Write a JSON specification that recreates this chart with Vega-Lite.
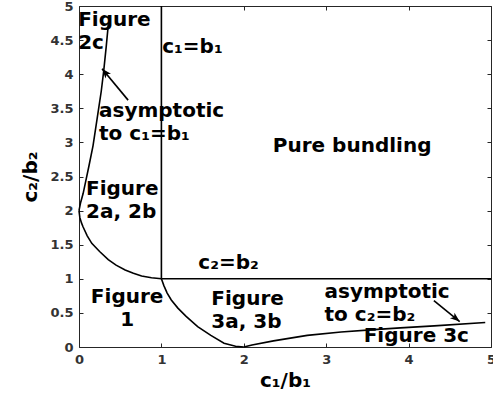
{
  "$schema": "https://vega.github.io/schema/vega-lite/v6.json",
  "width": 412,
  "height": 341,
  "autosize": {"type": "none"},
  "padding": {"left": 79, "top": 6, "right": 2, "bottom": 49},
  "background": "white",
  "config": {"view": {"stroke": null}, "font": "DejaVu Sans"},
  "datasets": {
    "curves": [
      {"curve": "A", "i": 0, "x": 0, "y": 2},
      {"curve": "A", "i": 1, "x": 0.01, "y": 1.9},
      {"curve": "A", "i": 2, "x": 0.03, "y": 1.82},
      {"curve": "A", "i": 3, "x": 0.05, "y": 1.76},
      {"curve": "A", "i": 4, "x": 0.1, "y": 1.63},
      {"curve": "A", "i": 5, "x": 0.155, "y": 1.52},
      {"curve": "A", "i": 6, "x": 0.25, "y": 1.4},
      {"curve": "A", "i": 7, "x": 0.355, "y": 1.28},
      {"curve": "A", "i": 8, "x": 0.45, "y": 1.2},
      {"curve": "A", "i": 9, "x": 0.56, "y": 1.13},
      {"curve": "A", "i": 10, "x": 0.66, "y": 1.08},
      {"curve": "A", "i": 11, "x": 0.76, "y": 1.04},
      {"curve": "A", "i": 12, "x": 0.88, "y": 1.015},
      {"curve": "A", "i": 13, "x": 1, "y": 1},
      {"curve": "B", "i": 0, "x": 1, "y": 1},
      {"curve": "B", "i": 1, "x": 1.03, "y": 0.9},
      {"curve": "B", "i": 2, "x": 1.07, "y": 0.79},
      {"curve": "B", "i": 3, "x": 1.12, "y": 0.69},
      {"curve": "B", "i": 4, "x": 1.2, "y": 0.57},
      {"curve": "B", "i": 5, "x": 1.3, "y": 0.45},
      {"curve": "B", "i": 6, "x": 1.44, "y": 0.3},
      {"curve": "B", "i": 7, "x": 1.6, "y": 0.17},
      {"curve": "B", "i": 8, "x": 1.76, "y": 0.055},
      {"curve": "B", "i": 9, "x": 1.9, "y": 0.01},
      {"curve": "B", "i": 10, "x": 2, "y": 0},
      {"curve": "C", "i": 0, "x": 2, "y": 0},
      {"curve": "C", "i": 1, "x": 2.1, "y": 0.03},
      {"curve": "C", "i": 2, "x": 2.36, "y": 0.09},
      {"curve": "C", "i": 3, "x": 2.77, "y": 0.17},
      {"curve": "C", "i": 4, "x": 3.18, "y": 0.22},
      {"curve": "C", "i": 5, "x": 3.58, "y": 0.255},
      {"curve": "C", "i": 6, "x": 3.9, "y": 0.28},
      {"curve": "C", "i": 7, "x": 4.31, "y": 0.31},
      {"curve": "C", "i": 8, "x": 4.93, "y": 0.36},
      {"curve": "D", "i": 0, "x": 0, "y": 2},
      {"curve": "D", "i": 1, "x": 0.02, "y": 2.12},
      {"curve": "D", "i": 2, "x": 0.05, "y": 2.25},
      {"curve": "D", "i": 3, "x": 0.08, "y": 2.42},
      {"curve": "D", "i": 4, "x": 0.12, "y": 2.65},
      {"curve": "D", "i": 5, "x": 0.17, "y": 2.95},
      {"curve": "D", "i": 6, "x": 0.22, "y": 3.35},
      {"curve": "D", "i": 7, "x": 0.27, "y": 3.75},
      {"curve": "D", "i": 8, "x": 0.3, "y": 4.05},
      {"curve": "D", "i": 9, "x": 0.33, "y": 4.4},
      {"curve": "D", "i": 10, "x": 0.355, "y": 4.72},
      {"curve": "E", "i": 0, "x": 1, "y": 1},
      {"curve": "E", "i": 1, "x": 1, "y": 5},
      {"curve": "F", "i": 0, "x": 1, "y": 1},
      {"curve": "F", "i": 1, "x": 5, "y": 1}
    ],
    "arrows": [
      {"arrow": "a1", "i": 0, "x": 0.596, "y": 3.62},
      {"arrow": "a1", "i": 1, "x": 0.28, "y": 4.08},
      {"arrow": "a2", "i": 0, "x": 4.307, "y": 0.68},
      {"arrow": "a2", "i": 1, "x": 4.62, "y": 0.373}
    ],
    "labelsLeft": [
      {"label": "Figure\n2c", "x": -0.01, "y": 4.8},
      {"label": "c₁=b₁", "x": 1.01, "y": 4.4},
      {"label": "asymptotic\nto c₁=b₁", "x": 0.243, "y": 3.46},
      {"label": "Figure\n2a, 2b", "x": 0.085, "y": 2.32},
      {"label": "c₂=b₂", "x": 1.448, "y": 1.237},
      {"label": "Figure\n3a, 3b", "x": 1.606, "y": 0.71},
      {"label": "asymptotic\nto c₂=b₂", "x": 2.98, "y": 0.8},
      {"label": "Figure 3c", "x": 3.455, "y": 0.154}
    ],
    "labelsCenter": [
      {"label": "Pure bundling", "x": 3.315, "y": 2.95},
      {"label": "Figure\n1", "x": 0.584, "y": 0.74}
    ]
  },
  "layer": [
    {
      "data": {"name": "curves"},
      "mark": {"type": "line", "color": "black", "strokeWidth": 1.6},
      "encoding": {
        "x": {
          "field": "x", "type": "quantitative",
          "scale": {"domain": [0, 5], "nice": false},
          "axis": {
            "orient": "bottom", "values": [0, 1, 2, 3, 4, 5], "format": "~g", "grid": false,
            "domainColor": "#262626", "tickColor": "#262626", "tickSize": -4, "tickWidth": 1,
            "labelFont": "DejaVu Sans", "labelFontWeight": "bold", "labelFontSize": 13,
            "labelColor": "#333333", "labelPadding": 10, "labelFlush": false, "labelOverlap": false,
            "title": "c₁/b₁", "titleFont": "DejaVu Sans", "titleFontSize": 20,
            "titleFontWeight": "bold", "titleColor": "black", "titlePadding": 4
          }
        },
        "y": {
          "field": "y", "type": "quantitative",
          "scale": {"domain": [0, 5], "nice": false},
          "axis": {
            "orient": "left", "values": [0, 0.5, 1, 1.5, 2, 2.5, 3, 3.5, 4, 4.5, 5], "format": "~g", "grid": false,
            "domainColor": "#262626", "tickColor": "#262626", "tickSize": -4, "tickWidth": 1,
            "labelFont": "DejaVu Sans", "labelFontWeight": "bold", "labelFontSize": 13,
            "labelColor": "#333333", "labelPadding": 10, "labelFlush": false, "labelOverlap": false,
            "title": "c₂/b₂", "titleFont": "DejaVu Sans", "titleFontSize": 20,
            "titleFontWeight": "bold", "titleColor": "black", "titlePadding": 9
          }
        },
        "detail": {"field": "curve", "type": "nominal"},
        "order": {"field": "i", "type": "quantitative"}
      }
    },
    {
      "data": {"name": "arrows"},
      "mark": {"type": "line", "color": "black", "strokeWidth": 1.6},
      "encoding": {
        "x": {
          "field": "x", "type": "quantitative",
          "scale": {"domain": [0, 5], "nice": false},
          "axis": {
            "orient": "top", "values": [0, 1, 2, 3, 4, 5], "labels": false, "title": null, "grid": false,
            "domainColor": "#262626", "tickColor": "#262626", "tickSize": -4, "tickWidth": 1
          }
        },
        "y": {
          "field": "y", "type": "quantitative",
          "scale": {"domain": [0, 5], "nice": false},
          "axis": {
            "orient": "right", "values": [0, 0.5, 1, 1.5, 2, 2.5, 3, 3.5, 4, 4.5, 5], "labels": false, "title": null, "grid": false,
            "domainColor": "#262626", "tickColor": "#262626", "tickSize": -4, "tickWidth": 1
          }
        },
        "detail": {"field": "arrow", "type": "nominal"},
        "order": {"field": "i", "type": "quantitative"}
      }
    },
    {
      "data": {"name": "arrows"},
      "transform": [{"filter": "datum.arrow === 'a1' && datum.i === 1"}],
      "mark": {"type": "point", "shape": "M0,0L-2.4,-0.9L-1.8,0L-2.4,0.9Z", "filled": true, "color": "black", "opacity": 1, "size": 64, "angle": 230},
      "encoding": {
        "x": {"field": "x", "type": "quantitative", "axis": null},
        "y": {"field": "y", "type": "quantitative", "axis": null}
      }
    },
    {
      "data": {"name": "arrows"},
      "transform": [{"filter": "datum.arrow === 'a2' && datum.i === 1"}],
      "mark": {"type": "point", "shape": "M0,0L-2.4,-0.9L-1.8,0L-2.4,0.9Z", "filled": true, "color": "black", "opacity": 1, "size": 64, "angle": 39},
      "encoding": {
        "x": {"field": "x", "type": "quantitative", "axis": null},
        "y": {"field": "y", "type": "quantitative", "axis": null}
      }
    },
    {
      "data": {"name": "labelsLeft"},
      "mark": {"type": "text", "font": "DejaVu Sans", "fontWeight": "bold", "fontSize": 20, "align": "left", "baseline": "middle", "lineBreak": "\n", "lineHeight": 23, "color": "black"},
      "encoding": {
        "x": {"field": "x", "type": "quantitative", "axis": null},
        "y": {"field": "y", "type": "quantitative", "axis": null},
        "text": {"field": "label", "type": "nominal"}
      }
    },
    {
      "data": {"name": "labelsCenter"},
      "mark": {"type": "text", "font": "DejaVu Sans", "fontWeight": "bold", "fontSize": 20, "align": "center", "baseline": "middle", "lineBreak": "\n", "lineHeight": 23, "color": "black"},
      "encoding": {
        "x": {"field": "x", "type": "quantitative", "axis": null},
        "y": {"field": "y", "type": "quantitative", "axis": null},
        "text": {"field": "label", "type": "nominal"}
      }
    }
  ]
}
